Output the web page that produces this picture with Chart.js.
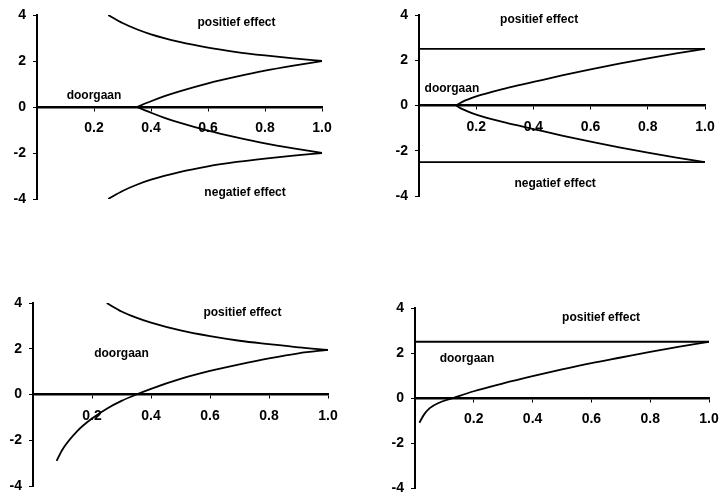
<!DOCTYPE html>
<html>
<head>
<meta charset="utf-8">
<script src="https://cdn.jsdelivr.net/npm/chart.js@4/dist/chart.umd.min.js"></script>
<style>
  html, body { margin:0; padding:0; background:#fff; overflow:hidden; width:720px; height:494px; position:relative; }
  canvas { position:absolute; }
</style>
</head>
<body>
<canvas id="c1"></canvas>
<canvas id="c2"></canvas>
<canvas id="c3"></canvas>
<canvas id="c4"></canvas>
<script>
// ---- data ----
const xTicksLabels = ['0.2', '0.4', '0.6', '0.8', '1.0'];

// panel 1 & 3 : outer curves
const xOuter = [0.25, 0.3, 0.35, 0.4, 0.5, 0.6, 0.7, 0.8, 0.9, 1.0];
const upperOuter = [4.0, 3.65, 3.38, 3.16, 2.83, 2.58, 2.39, 2.24, 2.11, 2.0];
const lowerOuter = [-4.0, -3.65, -3.38, -3.16, -2.83, -2.58, -2.39, -2.24, -2.11, -2.0];
const upperOuter3 = [4.0, 3.63, 3.36, 3.14, 2.8, 2.55, 2.35, 2.2, 2.06, 1.95];

// panel 1 : inner curves
const xInner1 = [0.35, 0.4, 0.45, 0.5, 0.6, 0.7, 0.8, 0.9, 1.0];
const riseInner1 = [0, 0.25, 0.48, 0.68, 1.03, 1.32, 1.58, 1.80, 2.0];
const fallInner1 = [0, -0.25, -0.48, -0.68, -1.03, -1.32, -1.58, -1.80, -2.0];

// panel 2
const xInner2 = [0.13, 0.15, 0.2, 0.3, 0.4, 0.5, 0.6, 0.7, 0.8, 0.9, 1.0];
const riseInner2 = [0, 0.15, 0.4, 0.75, 1.04, 1.33, 1.6, 1.85, 2.08, 2.3, 2.5];
const fallInner2 = [0, -0.15, -0.4, -0.75, -1.04, -1.33, -1.6, -1.85, -2.08, -2.3, -2.5];
const xFlat = [0, 1];
const upperFlat = [2.5, 2.5];
const lowerFlat = [-2.5, -2.5];

// panel 3
const xInner3 = [0.08, 0.1, 0.15, 0.2, 0.25, 0.3, 0.35, 0.4, 0.5, 0.6, 0.7, 0.8, 0.9, 1.0];
const riseInner3 = [-2.9, -2.4, -1.6, -1.05, -0.62, -0.28, 0, 0.25, 0.68, 1.03, 1.32, 1.58, 1.80, 1.95];

// panel 4
const xInner4 = [0.015, 0.03, 0.05, 0.08, 0.13, 0.2, 0.3, 0.4, 0.5, 0.6, 0.7, 0.8, 0.9, 1.0];
const riseInner4 = [-1.1, -0.75, -0.45, -0.22, 0, 0.3, 0.65, 0.97, 1.27, 1.55, 1.8, 2.05, 2.28, 2.5];

// text labels (text, x, y in data units)
const labels1 = [['positief effect', 0.70, 3.65], ['doorgaan', 0.20, 0.48], ['negatief effect', 0.73, -3.74]];
const labels2 = [['positief effect', 0.42, 3.78], ['doorgaan', 0.115, 0.76], ['negatief effect', 0.476, -3.47]];
const labels3 = [['positief effect', 0.71, 3.57], ['doorgaan', 0.30, 1.77]];
const labels4 = [['positief effect', 0.633, 3.56], ['doorgaan', 0.177, 1.73]];

// ---- helpers ----
const FONT = "'Liberation Sans', Arial, sans-serif";
const pts = (xs, ys) => xs.map((x, i) => ({ x: x, y: ys[i] }));
const ds = (xs, ys) => ({
  data: pts(xs, ys), borderColor: '#000', borderWidth: 1.8, pointRadius: 0,
  cubicInterpolationMode: 'monotone', fill: false
});

const textPlugin = {
  id: 'txt',
  afterDatasetsDraw(chart, args, opts) {
    const c = chart.ctx;
    c.save();
    c.fillStyle = '#000';
    c.font = "bold 12px " + FONT;
    c.textAlign = 'center';
    c.textBaseline = 'middle';
    (opts.items || []).forEach(([t, x, y]) => {
      c.fillText(t, chart.scales.x.getPixelForValue(x), chart.scales.y.getPixelForValue(y));
    });
    c.restore();
  }
};

const YW = 30, PT = 24, PB = 24, PR = 26;
function makeChart(id, L, R, T, B, datasets, items) {
  const cv = document.getElementById(id);
  const w = YW + (R - L) + PR, h = PT + (B - T) + PB;
  cv.width = w; cv.height = h;
  cv.style.left = (L - YW) + 'px';
  cv.style.top = (T - PT) + 'px';
  cv.style.width = w + 'px'; cv.style.height = h + 'px';
  const chart = new Chart(cv, {
    type: 'line',
    data: { datasets: datasets },
    options: {
      responsive: false, animation: false, devicePixelRatio: 1,
      layout: { padding: { top: PT, bottom: PB, right: PR, left: 0 } },
      plugins: { legend: { display: false }, tooltip: { enabled: false }, txt: { items: items } },
      scales: {
        x: {
          type: 'linear', min: 0, max: 1, position: { y: 0 },
          grid: { display: true, drawOnChartArea: false, drawTicks: true, tickLength: 3, color: '#000', lineWidth: 1 },
          border: { display: true, color: '#000', width: 2.5 },
          ticks: {
            stepSize: 0.2, padding: 10, color: '#000', maxRotation: 0,
            font: { family: FONT, size: 14, weight: 'bold' },
            callback: (v) => { const i = Math.round(v / 0.2) - 1; return i >= 0 ? xTicksLabels[i] : ''; }
          }
        },
        y: {
          type: 'linear', min: -4, max: 4, position: 'left',
          afterFit: (s) => { s.width = YW; },
          grid: { display: true, drawOnChartArea: false, drawTicks: true, tickLength: 4, color: '#000', lineWidth: 1 },
          border: { display: true, color: '#000', width: 2 },
          ticks: { stepSize: 2, padding: 7, color: '#000', font: { family: FONT, size: 14, weight: 'bold' } }
        }
      }
    },
    plugins: [textPlugin]
  });
  // nudge the canvas so the plot area lands where it sits in the reference
  const a = chart.chartArea;
  cv.style.left = (L - a.left) + 'px';
  cv.style.top = (T - a.top) + 'px';
}

makeChart('c1', 37, 322, 15, 199, [
  ds(xOuter, upperOuter), ds(xOuter, lowerOuter), ds(xInner1, riseInner1), ds(xInner1, fallInner1)
], labels1);
makeChart('c2', 419, 705, 15, 196, [
  ds(xFlat, upperFlat), ds(xFlat, lowerFlat), ds(xInner2, riseInner2), ds(xInner2, fallInner2)
], labels2);
makeChart('c3', 33, 328, 303, 486, [
  ds(xOuter, upperOuter3), ds(xInner3, riseInner3)
], labels3);
makeChart('c4', 415, 709, 308, 488, [
  ds(xFlat, upperFlat), ds(xInner4, riseInner4)
], labels4);
</script>
</body>
</html>
